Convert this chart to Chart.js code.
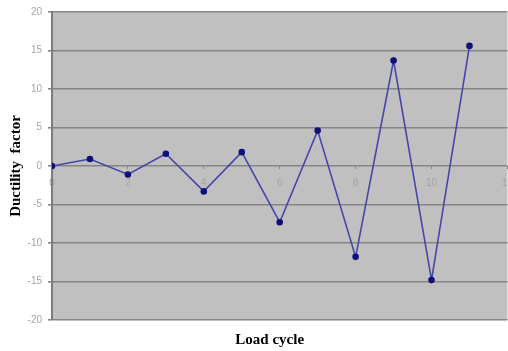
<!DOCTYPE html>
<html>
<head>
<meta charset="utf-8">
<script src="https://cdn.jsdelivr.net/npm/chart.js@4.4.1/dist/chart.umd.min.js"></script>
<style>
  html, body { margin: 0; padding: 0; background: #ffffff; overflow: hidden; }
  #wrap { width: 508px; height: 351px; position: relative; overflow: hidden; }
</style>
</head>
<body>
<div id="wrap"><canvas id="chart" width="521" height="351"></canvas></div>
<script>
// Load cycle number and measured ductility factor per cycle
const cycles = [0, 1, 2, 3, 4, 5, 6, 7, 8, 9, 10, 11];
const ductility = [0, 0.9, -1.1, 1.6, -3.3, 1.8, -7.3, 4.6, -11.8, 13.7, -14.8, 15.6];

const xTitle = 'Load cycle';
const yTitle = 'Ductility  factor';

// Grey plotting area
const plotBackground = {
  id: 'plotBackground',
  beforeDraw(chart) {
    const { ctx, chartArea: a } = chart;
    ctx.save();
    ctx.fillStyle = '#c0c0c0';
    ctx.fillRect(a.left, a.top, a.right - a.left, a.bottom - a.top);
    ctx.restore();
  }
};

// Horizontal axis title below the plot
const bottomTitle = {
  id: 'bottomTitle',
  afterDraw(chart) {
    const { ctx, chartArea: a } = chart;
    ctx.save();
    ctx.font = 'bold 15px "Liberation Serif", "Times New Roman", serif';
    ctx.fillStyle = '#000000';
    ctx.textAlign = 'center';
    ctx.textBaseline = 'middle';
    ctx.fillText(xTitle, a.left + (a.right - a.left) * 0.478, 340);
    ctx.restore();
  }
};

new Chart(document.getElementById('chart'), {
  type: 'scatter',
  data: {
    datasets: [{
      data: cycles.map((c, i) => ({ x: c, y: ductility[i] })),
      showLine: true,
      borderColor: '#4646a8',
      borderWidth: 1.6,
      pointBackgroundColor: '#10107a',
      pointBorderColor: '#10107a',
      pointRadius: 2.5,
      pointHoverRadius: 2.5,
      tension: 0
    }]
  },
  options: {
    responsive: false,
    animation: false,
    events: [],
    layout: { padding: { top: 10, right: 0, bottom: 31, left: 0 } },
    plugins: { legend: { display: false }, tooltip: { enabled: false } },
    scales: {
      x: {
        type: 'linear',
        position: { y: 0 },
        min: 0,
        max: 12,
        grid: { drawOnChartArea: false, drawTicks: true, tickLength: 3, color: '#8a8a8a' },
        border: { display: false },
        ticks: {
          stepSize: 2,
          padding: 8,
          color: '#a4a4a4',
          font: { family: '"Liberation Sans", Arial, sans-serif', size: 10 },
          maxRotation: 0,
          autoSkip: false
        }
      },
      y: {
        min: -20,
        max: 20,
        grid: { color: '#858585', lineWidth: 1.6, tickLength: 4, drawTicks: true },
        border: { color: '#7c7c7c', width: 2 },
        ticks: {
          stepSize: 5,
          padding: 6,
          color: '#a4a4a4',
          font: { family: '"Liberation Sans", Arial, sans-serif', size: 10 }
        },
        title: {
          display: true,
          text: yTitle,
          color: '#000000',
          padding: { top: 7, bottom: 4 },
          font: { family: '"Liberation Serif", "Times New Roman", serif', size: 15, weight: 'bold' }
        },
        afterFit(scale) { scale.width = 52; }
      }
    }
  },
  plugins: [plotBackground, bottomTitle]
});
</script>
</body>
</html>
